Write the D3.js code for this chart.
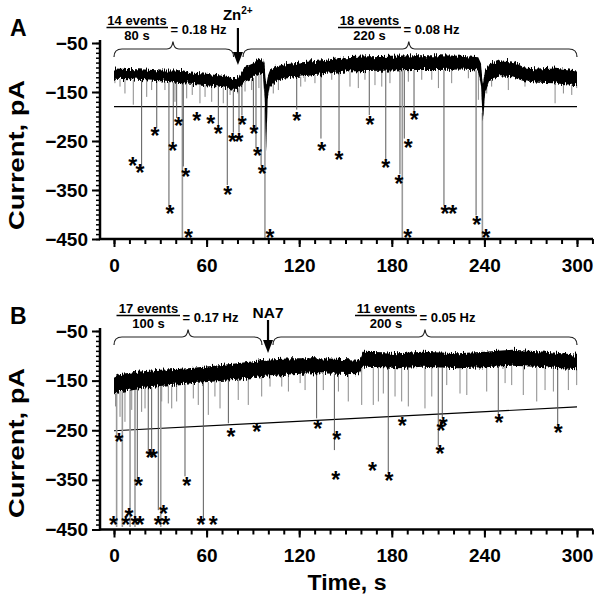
<!DOCTYPE html>
<html>
<head>
<meta charset="utf-8">
<script src="https://cdn.jsdelivr.net/npm/d3@7"></script>
<style>
  body { margin: 0; background: #fff; }
  svg text { font-family: "Liberation Sans", Arial, sans-serif; font-weight: bold; fill: #000; }
</style>
</head>
<body>
<div id="chart"></div>
<script>
'use strict';

// ---- values ----
const xTicks = [0, 60, 120, 180, 240, 300];
const yTicks = [-50, -150, -250, -350, -450];

// baseline band: [time s, upper edge pA, lower edge pA]
const traceA = [
  [0, -102, -123], [10, -103, -124], [20, -104, -126], [30, -106, -128], [40, -106, -131],
  [44, -105, -132], [50, -110, -133], [60, -113, -136], [70, -117, -140], [76, -121, -145],
  [80, -122, -146], [82, -112, -138], [84, -100, -130], [90, -92, -122], [94, -82, -112],
  [96.5, -84, -114], [97.6, -95, -160], [98.6, -135, -270], [99.6, -118, -165], [101, -106, -140],
  [105, -98, -128], [110, -94, -123], [120, -90, -119], [135, -85, -114], [150, -79, -108],
  [165, -77, -107], [180, -76, -106], [195, -75, -105], [210, -75, -105], [225, -76, -104],
  [236, -79, -106], [237.8, -92, -140], [239, -135, -210], [240.5, -105, -150], [243, -94, -128],
  [250, -85, -118], [258, -88, -120], [266, -100, -128], [275, -102, -131], [285, -100, -132],
  [300, -106, -136]
];
const traceB = [
  [0, -142, -180], [3, -137, -172], [15, -132, -166], [30, -128, -161], [48, -125, -156],
  [65, -120, -152], [80, -115, -148], [98, -108, -142], [115, -105, -137], [130, -105, -135],
  [145, -106, -136], [159, -108, -137], [161, -92, -122], [175, -93, -123], [184, -95, -125],
  [200, -92, -122], [223, -95, -125], [240, -92, -123], [258, -88, -120], [280, -92, -123],
  [300, -98, -127]
];

// small downward deflections below the band: [time s, tip pA]
const noiseA = [
  [0.6, -132], [3.9, -139], [7.1, -153], [12.5, -176], [21.2, -160], [24.4, -146], [33, -146],
  [39.5, -170], [47.1, -163], [50.7, -156], [55.7, -173], [59, -160], [63.3, -170], [70.8, -173],
  [75.2, -156], [80.2, -153], [84.9, -149], [89.2, -146], [93.9, -142], [103.2, -153], [106.5, -146],
  [121, -139], [123.8, -129], [130.2, -132], [141.1, -125], [152.9, -139], [158.3, -142],
  [162.6, -125], [169.1, -136], [173.5, -139], [178.8, -132], [190.7, -129], [199.4, -125],
  [205.9, -125], [210.2, -142], [218.8, -132], [229.6, -122], [236.1, -166], [239.3, -146],
  [241.5, -153], [244.7, -139], [255.5, -146], [266.3, -139], [276.1, -132], [285.8, -173],
  [291.2, -153], [296.6, -156], [299.8, -142]
];
const noiseB = [
  [1, -202], [3.9, -223], [7.1, -233], [11.5, -209], [17.9, -213], [20.1, -206], [30.9, -192],
  [35.2, -196], [37.4, -206], [40.6, -192], [51.4, -186], [54.6, -199], [61.1, -219], [65.4, -182],
  [68.7, -206], [80.5, -189], [87, -199], [95.7, -182], [101.1, -162], [108.7, -162], [113, -172],
  [120.6, -155], [123.8, -169], [135.6, -169], [145.4, -172], [151.8, -192], [160.5, -199],
  [168, -199], [171.3, -192], [174.5, -176], [182.1, -182], [186.4, -192], [190.7, -202],
  [201.5, -206], [205.9, -182], [215.6, -159], [224.2, -176], [228.6, -179], [241.5, -172],
  [253.4, -155], [257.7, -159], [265.2, -179], [273.9, -192], [279.3, -169], [284.7, -172],
  [294.4, -169], [299.8, -159]
];

// marked events: [time s, tip pA]
const eventsA = [
  [17.9, -303], [27.7, -224], [35.6, -385], [38.4, -254], [40.6, -203], [44.3, -450], [44.9, -302],
  [67.6, -220], [73.4, -340], [77.3, -233], [81, -233], [82.9, -198], [90.3, -224], [92, -265],
  [95.3, -300], [97.8, -450], [118.4, -186], [134.1, -245], [145.8, -274], [165.4, -197],
  [176.1, -288], [185.3, -318], [186.8, -450], [188.1, -245], [194.4, -189], [213.8, -381],
  [234.6, -402], [238.7, -450]
];
const eventsB = [
  [1.7, -445], [5.4, -445], [10.4, -445], [13.6, -445], [15.1, -350], [22.2, -296], [24.4, -296],
  [28.7, -411], [30.3, -445], [46, -343], [57.9, -434], [74.1, -236], [131.3, -226], [142.8, -290],
  [177.7, -337], [210.1, -283], [212.7, -226], [249, -219], [287.5, -239]
];

// asterisks: [time s, pA]
const starsA = [
  [12.1, -292], [16.8, -305], [26.6, -230], [36.3, -389], [38, -260], [41.7, -210], [46.5, -313],
  [48.2, -438], [53.6, -200], [62.7, -205], [67.6, -226], [73.7, -351], [76.7, -242], [81, -242],
  [83.1, -207], [90.7, -226], [92.9, -272], [96.1, -308], [101.1, -438], [118.4, -200],
  [134.6, -260], [145.8, -280], [165.9, -207], [176.1, -295], [184.7, -328], [190.3, -438],
  [190.7, -255], [194.6, -198], [214.5, -389], [219.5, -389], [235, -412], [241.1, -438]
];
const starsB = [
  [-0.4, -431], [3.2, -264], [7.6, -431], [9.7, -416], [13.6, -431], [16.8, -431], [15.8, -352],
  [23.3, -296], [25.5, -296], [28.7, -431], [33.5, -431], [32, -410], [47.1, -352], [56.4, -431],
  [64.3, -431], [75.8, -255], [92.5, -244], [132, -239], [144.3, -260], [143.7, -341],
  [167.4, -323], [178.2, -342], [186.8, -233], [213.4, -233], [211.9, -243], [211.2, -288],
  [249.5, -226], [287.9, -246]
];

// detection threshold lines: [time s, pA]
const thresholdA = [[0, -180], [300, -180]];
const thresholdB = [[0, -251], [300, -203]];

// braces: [start s, peak s, end s]
const bracesA = [[0, 38.2, 77.5], [83.6, 191, 300]];
const bracesB = [[0, 48, 95.9], [103, 201.5, 300]];

// event rates: [numerator, denominator, result]
const ratesA = [['14 events', '80 s', '= 0.18 Hz'], ['18 events', '220 s', '= 0.08 Hz']];
const ratesB = [['17 events', '100 s', '= 0.17 Hz'], ['11 events', '200 s', '= 0.05 Hz']];

// drug application time, s
const drugA = 80.3;
const drugB = 99.8;

// ---- drawing ----
const width = 602;
const height = 605;
const axisLeftX = 100;
const axisRightX = 593;

const svg = d3.select('#chart').append('svg')
  .attr('width', width)
  .attr('height', height);

// fuzzy edge on the recording band (vertical jitter only)
const filter = svg.append('defs').append('filter')
  .attr('id', 'rough')
  .attr('x', '-0.02').attr('y', '-0.5').attr('width', '1.04').attr('height', '2');
filter.append('feTurbulence')
  .attr('type', 'fractalNoise')
  .attr('baseFrequency', '0.9 0.06')
  .attr('numOctaves', 2)
  .attr('seed', 4)
  .attr('result', 'noise');
filter.append('feColorMatrix')
  .attr('in', 'noise')
  .attr('type', 'matrix')
  .attr('values', '0 0 0 0 0.5  0 1 0 0 0  0 0 0 0 0  0 0 0 0 1')
  .attr('result', 'map');
filter.append('feDisplacementMap')
  .attr('in', 'SourceGraphic')
  .attr('in2', 'map')
  .attr('scale', 9)
  .attr('xChannelSelector', 'R')
  .attr('yChannelSelector', 'G');

const x = d3.scaleLinear().domain([0, 300]).range([114, 577]);

function drawBrace(g, b, top) {
  const [t0, tm, t1] = b;
  const x0 = x(t0), xm = x(tm), x1 = x(t1);
  const yb = top + 6, ye = top + 14, yp = top - 1.5;
  const p = d3.path();
  p.moveTo(x0, ye);
  p.quadraticCurveTo(x0, yb, x0 + 8, yb);
  p.lineTo(xm - 6, yb);
  p.quadraticCurveTo(xm - 1, yb, xm, yp);
  p.quadraticCurveTo(xm + 1, yb, xm + 6, yb);
  p.lineTo(x1 - 8, yb);
  p.quadraticCurveTo(x1, yb, x1, ye);
  g.append('path')
    .attr('d', p.toString())
    .attr('fill', 'none')
    .attr('stroke', '#222')
    .attr('stroke-width', 1.2);
}

function drawRate(g, r, cx, barX0, barX1, top) {
  g.append('text')
    .attr('x', cx).attr('y', top - 18)
    .attr('text-anchor', 'middle')
    .attr('font-size', 13)
    .text(r[0]);
  g.append('line')
    .attr('x1', barX0).attr('x2', barX1)
    .attr('y1', top - 15.5).attr('y2', top - 15.5)
    .attr('stroke', '#000').attr('stroke-width', 1.5);
  g.append('text')
    .attr('x', cx).attr('y', top - 3.5)
    .attr('text-anchor', 'middle')
    .attr('font-size', 13)
    .text(r[1]);
  g.append('text')
    .attr('x', barX1 + 2.5).attr('y', top - 9)
    .attr('font-size', 13)
    .text(r[2]);
}

function drawArrow(g, t, y0, y1) {
  const ax = x(t);
  g.append('line')
    .attr('x1', ax).attr('x2', ax)
    .attr('y1', y0).attr('y2', y1 - 10)
    .attr('stroke', '#000').attr('stroke-width', 2.2);
  g.append('path')
    .attr('d', `M${ax - 5},${y1 - 13} L${ax + 5},${y1 - 13} L${ax},${y1} Z`)
    .attr('fill', '#000');
}

function drawPanel(cfg) {
  const y = d3.scaleLinear().domain([-450, -50]).range([cfg.bottom, cfg.top]);
  const g = svg.append('g');

  const bottomOf = d3.scaleLinear()
    .domain(cfg.trace.map(d => d[0]))
    .range(cfg.trace.map(d => d[2]));

  // panel letter
  g.append('text')
    .attr('x', 10).attr('y', cfg.top - 7)
    .attr('font-size', 23)
    .text(cfg.letter);

  // y axis title (the original lettering is stretched along its length)
  g.append('text')
    .attr('transform', `translate(23.5,${cfg.top + 112}) rotate(-90)`)
    .attr('text-anchor', 'middle')
    .attr('font-size', 22)
    .attr('textLength', 150)
    .attr('lengthAdjust', 'spacingAndGlyphs')
    .text('Current, pA');

  // threshold line
  g.append('path')
    .datum(cfg.threshold)
    .attr('d', d3.line().x(d => x(d[0])).y(d => y(d[1])))
    .attr('fill', 'none')
    .attr('stroke', '#000')
    .attr('stroke-width', 1.2);

  // small deflections
  g.append('g').selectAll('line')
    .data(cfg.noise)
    .join('line')
    .attr('x1', d => x(d[0])).attr('x2', d => x(d[0]))
    .attr('y1', d => y(bottomOf(d[0])))
    .attr('y2', d => y(d[1]))
    .attr('stroke', '#8a8a8a')
    .attr('stroke-width', 1);

  // event lines
  g.append('g').selectAll('line')
    .data(cfg.events)
    .join('line')
    .attr('x1', d => x(d[0])).attr('x2', d => x(d[0]))
    .attr('y1', d => y(bottomOf(d[0])))
    .attr('y2', d => y(d[1]))
    .attr('stroke', d => d[1] <= -440 ? '#9a9a9a' : '#5a5a5a')
    .attr('stroke-width', d => d[1] <= -440 ? 1.6 : 1);

  // recording band
  g.append('path')
    .datum(cfg.trace)
    .attr('d', d3.area().x(d => x(d[0])).y0(d => y(d[2])).y1(d => y(d[1])))
    .attr('fill', '#000')
    .attr('filter', 'url(#rough)');

  // asterisks
  g.append('g').selectAll('text')
    .data(cfg.stars)
    .join('text')
    .attr('x', d => x(d[0]))
    .attr('y', d => y(d[1]))
    .attr('dy', '0.55em')
    .attr('text-anchor', 'middle')
    .attr('font-size', 23)
    .text('*');

  // y axis: minor then major ticks
  g.append('g')
    .attr('transform', `translate(${axisLeftX},0)`)
    .call(d3.axisLeft(y).tickValues(d3.range(-450, -49, 10)).tickSize(4).tickSizeOuter(0).tickFormat(''))
    .call(a => a.select('.domain').remove())
    .call(a => a.selectAll('line').attr('stroke-width', 1.5));
  g.append('g')
    .attr('transform', `translate(${axisLeftX},0)`)
    .call(d3.axisLeft(y).tickValues(yTicks).tickSize(8).tickPadding(4).tickSizeOuter(0))
    .call(a => a.select('.domain').remove())
    .call(a => a.selectAll('line').attr('stroke-width', 2))
    .call(a => a.selectAll('text').attr('font-size', 19).attr('font-family', null));
  g.append('line')
    .attr('x1', axisLeftX).attr('x2', axisLeftX)
    .attr('y1', cfg.top - 3).attr('y2', cfg.bottom + 1)
    .attr('stroke', '#000').attr('stroke-width', 2.5);

  // x axis
  g.append('g')
    .attr('transform', `translate(0,${cfg.bottom})`)
    .call(d3.axisBottom(x).tickValues(d3.range(0, 311, 10)).tickSize(5).tickSizeOuter(0).tickFormat(''))
    .call(a => a.select('.domain').remove())
    .call(a => a.selectAll('line').attr('stroke-width', 2));
  g.append('g')
    .attr('transform', `translate(0,${cfg.bottom})`)
    .call(d3.axisBottom(x).tickValues(xTicks).tickSize(8).tickPadding(11.5).tickSizeOuter(0))
    .call(a => a.select('.domain').remove())
    .call(a => a.selectAll('line').attr('stroke-width', 2))
    .call(a => a.selectAll('text').attr('font-size', 19).attr('font-family', null));
  g.append('line')
    .attr('x1', axisLeftX - 1).attr('x2', axisRightX)
    .attr('y1', cfg.bottom).attr('y2', cfg.bottom)
    .attr('stroke', '#000').attr('stroke-width', 2.5);

  // annotations
  cfg.braces.forEach(b => drawBrace(g, b, cfg.top));
  cfg.rates.forEach((r, i) => {
    const p = cfg.ratePos[i];
    drawRate(g, r, p[0], p[1], p[2], cfg.top);
  });
  drawArrow(g, cfg.drug, cfg.top + cfg.arrowTop, cfg.top + 22);
  return g;
}

const gA = drawPanel({
  letter: 'A', top: 43, bottom: 239,
  trace: traceA, noise: noiseA, events: eventsA, stars: starsA,
  threshold: thresholdA, braces: bracesA, rates: ratesA,
  ratePos: [[137, 106.5, 168], [369.5, 338, 401]],
  drug: drugA, arrowTop: -15
});
const zn = gA.append('text')
  .attr('x', x(drugA) - 15).attr('y', 20)
  .attr('font-size', 15);
zn.append('tspan').text('Zn');
zn.append('tspan').attr('font-size', 10).attr('dy', -6).text('2+');

const gB = drawPanel({
  letter: 'B', top: 331, bottom: 529.5,
  trace: traceB, noise: noiseB, events: eventsB, stars: starsB,
  threshold: thresholdB, braces: bracesB, rates: ratesB,
  ratePos: [[148.5, 116.5, 180], [386, 355, 417]],
  drug: drugB, arrowTop: -11
});
gB.append('text')
  .attr('x', x(drugB)).attr('y', 318)
  .attr('text-anchor', 'middle')
  .attr('font-size', 15.5)
  .text('NA7');

// x axis title
svg.append('text')
  .attr('x', 347).attr('y', 590)
  .attr('text-anchor', 'middle')
  .attr('font-size', 22)
  .attr('textLength', 79)
  .attr('lengthAdjust', 'spacingAndGlyphs')
  .text('Time, s');
</script>
</body>
</html>
